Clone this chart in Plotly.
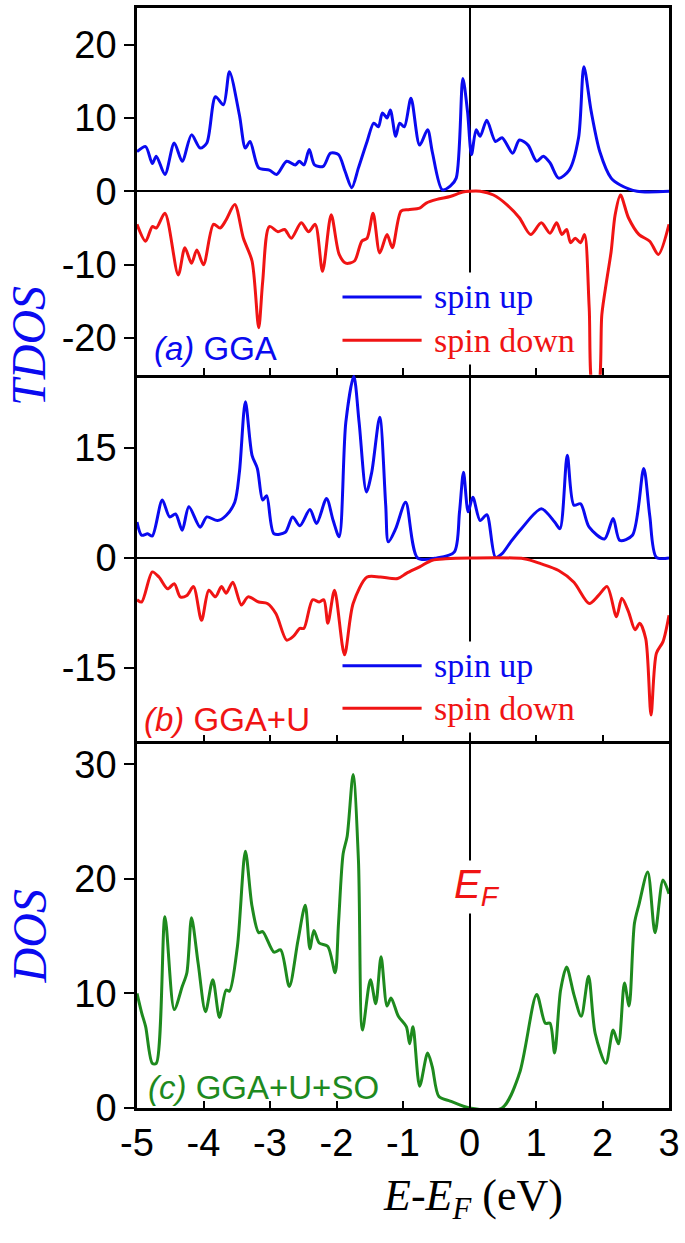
import plotly.graph_objects as go

# ---------------- data ----------------
e_a_up = [-5.0, -4.87, -4.77, -4.71, -4.58, -4.44, -4.32, -4.18, -4.05, -3.95, -3.82, -3.70, -3.61, -3.46,
          -3.37, -3.30, -3.17, -3.01, -2.90, -2.75, -2.62, -2.56, -2.49, -2.41, -2.33, -2.20, -2.09, -1.97,
          -1.87, -1.77, -1.67, -1.54, -1.44, -1.37, -1.31, -1.24, -1.19, -1.11, -1.05, -0.98, -0.88, -0.75,
          -0.63, -0.56, -0.41, -0.29, -0.20, -0.10, -0.03, 0.03, 0.10, 0.16, 0.26, 0.39, 0.49, 0.65, 0.75,
          0.88, 1.01, 1.11, 1.21, 1.34, 1.50, 1.64, 1.72, 1.83, 1.96, 2.13, 2.26, 2.52, 3.0]
tdos_a_up = [5.4, 6.1, 3.8, 4.8, 2.3, 6.6, 4.1, 7.7, 5.9, 6.6, 12.9, 11.8, 16.3, 10.4,
             5.9, 6.8, 3.2, 2.9, 2.3, 4.1, 3.6, 4.1, 3.6, 5.7, 3.6, 3.4, 5.2, 5.0,
             2.7, 0.5, 3.2, 6.8, 9.3, 8.8, 10.7, 10.0, 11.1, 7.5, 9.3, 8.8, 12.7, 6.3,
             8.4, 5.4, 0.2, 0.7, 1.8, 15.4, 10.9, 5.0, 8.4, 7.5, 9.7, 6.8, 7.3, 5.2, 7.0,
             6.3, 4.1, 4.8, 3.9, 1.8, 2.9, 7.3, 17.0, 10.9, 5.4, 1.8, 0.9, 0.0, 0.0]

e_a_dn = [-5.0, -4.87, -4.77, -4.71, -4.58, -4.38, -4.28, -4.18, -4.10, -4.00, -3.85, -3.75, -3.66, -3.53,
          -3.40, -3.27, -3.17, -3.11, -3.01, -2.88, -2.78, -2.68, -2.53, -2.42, -2.32, -2.21, -2.08, -1.96,
          -1.86, -1.73, -1.62, -1.54, -1.45, -1.35, -1.24, -1.16, -1.03, -0.92, -0.75, -0.65, -0.49, -0.29,
          -0.10, 0.0, 0.16, 0.36, 0.56, 0.75, 0.92, 1.08, 1.21, 1.31, 1.39, 1.46, 1.52, 1.59, 1.67, 1.73,
          1.80, 1.86, 1.93, 1.99, 2.06, 2.13, 2.19, 2.27, 2.39, 2.55, 2.71, 2.84, 3.0]
tdos_a_dn = [-4.5, -6.8, -4.8, -5.0, -3.0, -11.4, -7.7, -9.8, -8.0, -10.0, -4.5, -5.0, -3.9, -1.8,
             -6.4, -9.5, -18.6, -12.3, -4.8, -5.5, -5.2, -6.4, -4.3, -5.5, -4.5, -10.9, -3.2, -8.6,
             -9.8, -9.5, -6.8, -6.4, -3.0, -8.4, -5.9, -7.7, -2.7, -2.5, -2.3, -1.6, -1.1, -0.7,
             -0.1, 0.0, 0.0, -0.5, -1.8, -3.6, -5.9, -4.3, -5.7, -4.3, -5.9, -5.2, -7.0, -6.4, -7.0, -5.9,
             -15.9, -27.0, -27.0, -16.8, -12.3, -8.2, -3.2, -0.5, -3.6, -5.9, -6.8, -8.6, -4.5]

e_b_up = [-5.0, -4.93, -4.84, -4.77, -4.62, -4.51, -4.42, -4.32, -4.22, -4.05, -3.95, -3.79, -3.66, -3.53,
          -3.46, -3.37, -3.27, -3.19, -3.11, -3.05, -2.94, -2.77, -2.66, -2.55, -2.40, -2.30, -2.15, -2.05,
          -1.96, -1.86, -1.74, -1.66, -1.55, -1.47, -1.35, -1.26, -1.22, -1.11, -0.96, -0.78, -0.49, -0.23,
          -0.15, -0.09, -0.02, 0.05, 0.16, 0.26, 0.39, 0.49, 0.62, 0.78, 1.08, 1.28, 1.36, 1.47, 1.57,
          1.67, 1.80, 2.03, 2.16, 2.26, 2.45, 2.62, 2.71, 2.81, 3.0]
tdos_b_up = [4.9, 3.1, 3.3, 3.0, 7.9, 5.6, 6.0, 3.8, 7.0, 4.2, 5.6, 5.1, 5.8, 7.6,
             11.7, 21.3, 14.0, 12.2, 7.9, 8.5, 3.3, 3.5, 5.6, 4.4, 6.6, 4.7, 8.1, 5.1,
             2.9, 18.5, 24.8, 18.5, 9.0, 11.7, 19.2, 7.2, 2.2, 4.0, 7.6, 0.0, 0.0, 0.8,
             6.3, 11.7, 6.3, 8.3, 5.1, 5.9, 0.1, 0.6, 2.2, 4.0, 6.7, 4.9, 4.0, 14.0, 7.2,
             7.4, 4.2, 2.6, 5.4, 2.4, 3.1, 12.2, 5.8, 0.1, 0.0]

e_b_dn = [-5.0, -4.93, -4.77, -4.67, -4.54, -4.44, -4.35, -4.25, -4.15, -4.03, -3.92, -3.82, -3.73, -3.66,
          -3.56, -3.43, -3.33, -3.17, -3.04, -2.91, -2.75, -2.65, -2.55, -2.49, -2.36, -2.26, -2.19, -2.13,
          -2.03, -1.88, -1.75, -1.54, -1.34, -1.08, -0.95, -0.75, -0.56, -0.36, 0.0, 0.82, 1.08, 1.34,
          1.57, 1.80, 1.94, 2.07, 2.21, 2.29, 2.39, 2.49, 2.56, 2.65, 2.73, 2.81, 2.91, 3.0]
tdos_b_dn = [-5.7, -6.0, -1.9, -2.6, -4.2, -3.5, -5.3, -5.1, -3.9, -8.5, -4.4, -5.3, -3.9, -4.8,
             -3.3, -6.4, -5.3, -6.0, -6.2, -7.6, -11.2, -10.7, -9.6, -9.6, -5.7, -6.0, -5.7, -8.9,
             -4.4, -13.2, -6.2, -2.6, -2.6, -2.8, -2.1, -1.2, -0.3, -0.1, 0.0, -0.1, -0.8, -1.7,
             -3.3, -6.2, -5.1, -3.9, -8.0, -5.5, -7.3, -9.8, -8.9, -11.0, -21.4, -13.0, -11.4, -7.8]

e_c = [-5.0, -4.93, -4.87, -4.77, -4.71, -4.58, -4.44, -4.32, -4.25, -4.18, -4.08, -3.97, -3.86, -3.76,
       -3.66, -3.61, -3.49, -3.37, -3.27, -3.17, -3.11, -2.94, -2.84, -2.71, -2.58, -2.47, -2.40, -2.34,
       -2.26, -2.13, -2.02, -1.97, -1.90, -1.84, -1.75, -1.67, -1.61, -1.49, -1.41, -1.33, -1.24, -1.18,
       -1.07, -0.95, -0.90, -0.85, -0.75, -0.63, -0.56, -0.46, -0.29, 0.0, 0.49, 0.75, 1.01, 1.14, 1.21,
       1.28, 1.37, 1.46, 1.57, 1.68, 1.79, 1.89, 2.05, 2.16, 2.24, 2.33, 2.40, 2.48, 2.55, 2.68, 2.79,
       2.91, 3.0]
dos_c = [10.0, 8.3, 7.1, 3.9, 3.9, 16.7, 8.6, 10.6, 11.8, 16.6, 12.6, 8.4, 11.2, 7.9,
         10.3, 10.2, 14.1, 22.4, 17.6, 15.3, 15.4, 13.6, 13.8, 10.6, 14.6, 17.7, 13.9, 15.5,
         14.4, 14.1, 11.8, 16.1, 22.2, 23.7, 29.1, 21.6, 6.8, 11.2, 9.1, 13.2, 8.9, 9.6,
         8.0, 7.1, 5.6, 7.1, 1.9, 4.8, 3.6, 1.0, 0.6, 0.0, 0.0, 3.0, 9.9, 7.4, 7.4,
         4.8, 10.3, 12.3, 9.9, 8.0, 11.5, 6.5, 3.9, 6.8, 5.6, 10.9, 8.9, 16.1, 17.8, 20.6, 15.3,
         19.9, 18.7]

x_ticks = [-5, -4, -3, -2, -1, 0, 1, 2, 3]
x_ticktext = ["-5", "-4", "-3", "-2", "-1", "0", "1", "2", "3"]
ya_ticks = [-20, -10, 0, 10, 20]
ya_ticktext = ["-20", "-10", "0", "10", "20"]
yb_ticks = [-15, 0, 15]
yb_ticktext = ["-15", "0", "15"]
yc_ticks = [0, 10, 20, 30]
yc_ticktext = ["0", "10", "20", "30"]

BLUE = "#0a0af0"
RED = "#f01414"
GREEN = "#1e8a1e"
SANS = "Liberation Sans, Arial, sans-serif"
SERIF = "Liberation Serif, Times New Roman, serif"

fig = go.Figure()
lw = 3
sm = 0.8
fig.add_trace(go.Scatter(x=e_a_up, y=tdos_a_up, mode="lines", line=dict(color=BLUE, width=lw, shape="spline", smoothing=sm),
                         xaxis="x", yaxis="y", name="spin up", showlegend=False))
fig.add_trace(go.Scatter(x=e_a_dn, y=tdos_a_dn, mode="lines", line=dict(color=RED, width=lw, shape="spline", smoothing=sm),
                         xaxis="x", yaxis="y", name="spin down", showlegend=False))
fig.add_trace(go.Scatter(x=e_b_up, y=tdos_b_up, mode="lines", line=dict(color=BLUE, width=lw, shape="spline", smoothing=sm),
                         xaxis="x2", yaxis="y2", name="spin up", showlegend=False))
fig.add_trace(go.Scatter(x=e_b_dn, y=tdos_b_dn, mode="lines", line=dict(color=RED, width=lw, shape="spline", smoothing=sm),
                         xaxis="x2", yaxis="y2", name="spin down", showlegend=False))
fig.add_trace(go.Scatter(x=e_c, y=dos_c, mode="lines", line=dict(color=GREEN, width=lw, shape="spline", smoothing=sm),
                         xaxis="x3", yaxis="y3", name="DOS", showlegend=False))

xcommon = dict(range=[-5, 3], tickvals=x_ticks, ticktext=x_ticktext, ticks="inside", ticklen=7, tickwidth=2,
               tickcolor="black", showline=True, linewidth=2.5, linecolor="black",
               showgrid=False, zeroline=True, zerolinecolor="black", zerolinewidth=2,
               tickfont=dict(family=SANS, size=38, color="black"))
ycommon = dict(ticks="outside", ticklen=10, tickwidth=2, tickcolor="black", showline=True, linewidth=2.5,
               linecolor="black", mirror=True, showgrid=False, zerolinecolor="black", zerolinewidth=2,
               tickfont=dict(family=SANS, size=38, color="black"))

fig.update_layout(
    width=685, height=1243,
    margin=dict(l=137, r=15, t=5, b=135),
    paper_bgcolor="white", plot_bgcolor="white",
    showlegend=False,
    xaxis=dict(xcommon, anchor="y", showticklabels=False, matches="x3", mirror=True),
    xaxis2=dict(xcommon, anchor="y2", showticklabels=False, matches="x3", mirror=False),
    xaxis3=dict(xcommon, anchor="y3", showticklabels=True, mirror=False),
    yaxis=dict(ycommon, domain=[2/3, 1], range=[-25, 25], tickvals=ya_ticks, ticktext=ya_ticktext,
               zeroline=True, anchor="x"),
    yaxis2=dict(ycommon, domain=[1/3, 2/3], range=[-25, 25], tickvals=yb_ticks, ticktext=yb_ticktext,
                zeroline=True, anchor="x2"),
    yaxis3=dict(ycommon, domain=[0, 1/3], range=[0, 32], tickvals=yc_ticks, ticktext=yc_ticktext,
                zeroline=False, anchor="x3"),
)

# legend swatches and labels (panels a and b)
shapes = []
annos = []
for xr, yr, y_up, y_dn in [("x", "y", -14.4, -20.3), ("x2", "y2", -14.7, -20.5)]:
    shapes.append(dict(type="line", xref=xr, yref=yr, x0=-1.91, x1=-0.72, y0=y_up, y1=y_up,
                       line=dict(color=BLUE, width=3)))
    shapes.append(dict(type="line", xref=xr, yref=yr, x0=-1.91, x1=-0.72, y0=y_dn, y1=y_dn,
                       line=dict(color=RED, width=3)))
    annos.append(dict(xref=xr, yref=yr, x=-0.62, y=y_up, text="spin up", showarrow=False, xanchor="left",
                      yanchor="middle", font=dict(family=SERIF, size=34, color=BLUE), bgcolor="white",
                      borderpad=5))
    annos.append(dict(xref=xr, yref=yr, x=-0.62, y=y_dn, text="spin down", showarrow=False, xanchor="left",
                      yanchor="middle", font=dict(family=SERIF, size=34, color=RED), bgcolor="white",
                      borderpad=5))

annos.append(dict(xref="x", yref="y", x=-4.78, y=-21.4, text="<i>(a)</i> GGA", showarrow=False, xanchor="left",
                  yanchor="middle", font=dict(family=SANS, size=33, color=BLUE)))
annos.append(dict(xref="x2", yref="y2", x=-4.92, y=-22.0, text="<i>(b)</i> GGA+U", showarrow=False, xanchor="left",
                  yanchor="middle", font=dict(family=SANS, size=33, color=RED)))
annos.append(dict(xref="x3", yref="y3", x=-4.86, y=1.8, text="<i>(c)</i> GGA+U+SO", showarrow=False, xanchor="left",
                  yanchor="middle", font=dict(family=SANS, size=33, color=GREEN)))
annos.append(dict(xref="x3", yref="y3", x=-0.27, y=19.3, text="<i>E<sub>F</sub></i>", showarrow=False, xanchor="left",
                  yanchor="middle", font=dict(family=SANS, size=40, color=RED), bgcolor="white"))

annos.append(dict(xref="paper", yref="paper", x=-0.205, y=0.6927, text="<i>TDOS</i>", textangle=-90, showarrow=False,
                  xanchor="center", yanchor="middle", font=dict(family=SERIF, size=48, color=BLUE), borderpad=0))
annos.append(dict(xref="paper", yref="paper", x=-0.203, y=0.156, text="<i>DOS</i>", textangle=-90, showarrow=False,
                  xanchor="center", yanchor="middle", font=dict(family=SERIF, size=48, color=BLUE), borderpad=0))
annos.append(dict(xref="paper", yref="paper", x=0.632, y=-0.082, text="<i>E</i>-<i>E</i><sub><i>F</i></sub> (eV)",
                  showarrow=False, xanchor="center", yanchor="middle", font=dict(family=SERIF, size=44, color="black")))

fig.update_layout(shapes=shapes, annotations=annos)
fig.write_html("out.html", config={"displayModeBar": False},
               post_script="document.body.style.margin='0px';")
